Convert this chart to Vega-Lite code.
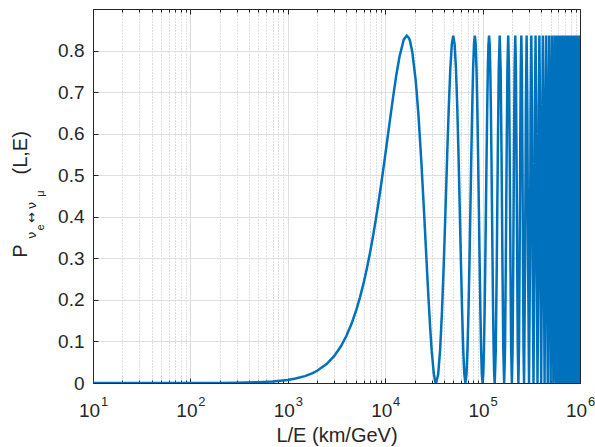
{
 "$schema": "https://vega.github.io/schema/vega-lite/v6.json",
 "width": 487,
 "height": 374,
 "autosize": {"type": "none"},
 "padding": {"left": 93, "top": 9, "right": 15, "bottom": 64},
 "background": "white",
 "config": {
  "view": {"stroke": null},
  "axis": {"labelFont": "Liberation Sans", "titleFont": "Liberation Sans", "labelColor": "#262626", "titleColor": "#262626", "titleFontWeight": "normal", "domainColor": "#262626", "tickColor": "#262626", "domainWidth": 1, "tickWidth": 1, "labelFlush": false, "labelOverlap": false}
 },
 "data": {"values": [
  {"x":10,"p":0},{"x":20,"p":0.000003},{"x":50,"p":0.0000186},{"x":100,"p":0.0000744},{"x":200,"p":0.000298},{"x":300,"p":0.00067},{"x":500,"p":0.00186},{"x":700,"p":0.00365},{"x":1000,"p":0.00742},{"x":1200,"p":0.01067},{"x":1500,"p":0.01663},{"x":1800,"p":0.02388},{"x":2000,"p":0.02941},{"x":2500,"p":0.04565},{"x":3000,"p":0.0652},{"x":3500,"p":0.08788},{"x":4000,"p":0.1135},{"x":4500,"p":0.14182},{"x":5000,"p":0.1726},{"x":5500,"p":0.20561},{"x":6000,"p":0.2404},{"x":6500,"p":0.27689},{"x":7000,"p":0.3146},{"x":7500,"p":0.35318},{"x":8000,"p":0.3925},{"x":8500,"p":0.4318},{"x":9000,"p":0.4711},{"x":9500,"p":0.5099},{"x":10000,"p":0.5478},{"x":11000,"p":0.62012},{"x":12000,"p":0.685},{"x":13000,"p":0.74071},{"x":14000,"p":0.7847},{"x":15500,"p":0.8262},{"x":16650,"p":0.836},{"x":17500,"p":0.83063},{"x":18000,"p":0.8225},{"x":19000,"p":0.7957},{"x":20500,"p":0.7305},{"x":21000,"p":0.70297},{"x":22000,"p":0.6408},{"x":23500,"p":0.5329},{"x":25000,"p":0.4158},{"x":26500,"p":0.2994},{"x":27000,"p":0.26212},{"x":28000,"p":0.1922},{"x":29000,"p":0.13018},{"x":30000,"p":0.0785},{"x":31500,"p":0.0239},{"x":32500,"p":0.0048},{"x":33000,"p":0.00067},
  {"x":33300,"p":0},{"x":34965,"p":0.02046},{"x":36630,"p":0.0798},{"x":38295,"p":0.1723},{"x":39960,"p":0.2888},{"x":41625,"p":0.418},{"x":43290,"p":0.5472},{"x":44955,"p":0.6637},{"x":46620,"p":0.7562},{"x":48285,"p":0.8155},{"x":49950,"p":0.836},{"x":51615,"p":0.8155},{"x":53280,"p":0.7562},{"x":54945,"p":0.6637},{"x":56610,"p":0.5472},{"x":58275,"p":0.418},{"x":59940,"p":0.2888},{"x":61605,"p":0.1723},{"x":63270,"p":0.0798},{"x":64935,"p":0.02046},
  {"x":66600,"p":0},{"x":68265,"p":0.02046},{"x":69930,"p":0.0798},{"x":71595,"p":0.1723},{"x":73260,"p":0.2888},{"x":74925,"p":0.418},{"x":76590,"p":0.5472},{"x":78255,"p":0.6637},{"x":79920,"p":0.7562},{"x":81585,"p":0.8155},{"x":83250,"p":0.836},{"x":84915,"p":0.8155},{"x":86580,"p":0.7562},{"x":88245,"p":0.6637},{"x":89910,"p":0.5472},{"x":91575,"p":0.418},{"x":93240,"p":0.2888},{"x":94905,"p":0.1723},{"x":96570,"p":0.0798},{"x":98235,"p":0.02046},
  {"x":99900,"p":0},{"x":101565,"p":0.02046},{"x":103230,"p":0.0798},{"x":104895,"p":0.1723},{"x":106560,"p":0.2888},{"x":108225,"p":0.418},{"x":109890,"p":0.5472},{"x":111555,"p":0.6637},{"x":113220,"p":0.7562},{"x":114885,"p":0.8155},{"x":116550,"p":0.836},{"x":118215,"p":0.8155},{"x":119880,"p":0.7562},{"x":121545,"p":0.6637},{"x":123210,"p":0.5472},{"x":124875,"p":0.418},{"x":126540,"p":0.2888},{"x":128205,"p":0.1723},{"x":129870,"p":0.0798},{"x":131535,"p":0.02046},
  {"x":133200,"p":0},{"x":136530,"p":0.0798},{"x":139860,"p":0.2888},{"x":143190,"p":0.5472},{"x":146520,"p":0.7562},{"x":149850,"p":0.836},{"x":153180,"p":0.7562},{"x":156510,"p":0.5472},{"x":159840,"p":0.2888},{"x":163170,"p":0.0798},
  {"x":166500,"p":0},{"x":169830,"p":0.0798},{"x":173160,"p":0.2888},{"x":176490,"p":0.5472},{"x":179820,"p":0.7562},{"x":183150,"p":0.836},{"x":186480,"p":0.7562},{"x":189810,"p":0.5472},{"x":193140,"p":0.2888},{"x":196470,"p":0.0798},
  {"x":199800,"p":0},{"x":203130,"p":0.0798},{"x":206460,"p":0.2888},{"x":209790,"p":0.5472},{"x":213120,"p":0.7562},{"x":216450,"p":0.836},{"x":219780,"p":0.7562},{"x":223110,"p":0.5472},{"x":226440,"p":0.2888},{"x":229770,"p":0.0798},
  {"x":233100,"p":0},{"x":236430,"p":0.0798},{"x":239760,"p":0.2888},{"x":243090,"p":0.5472},{"x":246420,"p":0.7562},{"x":249750,"p":0.836},{"x":253080,"p":0.7562},{"x":256410,"p":0.5472},{"x":259740,"p":0.2888},{"x":263070,"p":0.0798},
  {"x":266400,"p":0},{"x":273060,"p":0.2888},{"x":278055,"p":0.6637},{"x":283050,"p":0.836},{"x":288045,"p":0.6637},{"x":293040,"p":0.2888},
  {"x":299700,"p":0},{"x":306360,"p":0.2888},{"x":311355,"p":0.6637},{"x":316350,"p":0.836},{"x":321345,"p":0.6637},{"x":326340,"p":0.2888},
  {"x":333000,"p":0},{"x":339660,"p":0.2888},{"x":344655,"p":0.6637},{"x":349650,"p":0.836},{"x":354645,"p":0.6637},{"x":359640,"p":0.2888},
  {"x":366300,"p":0},{"x":372960,"p":0.2888},{"x":377955,"p":0.6637},{"x":382950,"p":0.836},{"x":387945,"p":0.6637},{"x":392940,"p":0.2888},
  {"x":399600,"p":0},{"x":406260,"p":0.2888},{"x":411255,"p":0.6637},{"x":416250,"p":0.836},{"x":421245,"p":0.6637},{"x":426240,"p":0.2888},
  {"x":432900,"p":0},{"x":439560,"p":0.2888},{"x":444555,"p":0.6637},{"x":449550,"p":0.836},{"x":454545,"p":0.6637},{"x":459540,"p":0.2888},
  {"x":466200,"p":0},{"x":472860,"p":0.2888},{"x":477855,"p":0.6637},{"x":482850,"p":0.836},{"x":487845,"p":0.6637},{"x":492840,"p":0.2888},
  {"x":499500,"p":0},{"x":506160,"p":0.2888},{"x":511155,"p":0.6637},{"x":516150,"p":0.836},{"x":521145,"p":0.6637},{"x":526140,"p":0.2888},
  {"x":532800,"p":0},{"x":539460,"p":0.2888},{"x":544455,"p":0.6637},{"x":549450,"p":0.836},{"x":554445,"p":0.6637},{"x":559440,"p":0.2888},
  {"x":566100,"p":0},{"x":572760,"p":0.2888},{"x":577755,"p":0.6637},{"x":582750,"p":0.836},{"x":587745,"p":0.6637},{"x":592740,"p":0.2888},
  {"x":599400,"p":0},{"x":606060,"p":0.2888},{"x":611055,"p":0.6637},{"x":616050,"p":0.836},{"x":621045,"p":0.6637},{"x":626040,"p":0.2888},
  {"x":632700,"p":0},{"x":639360,"p":0.2888},{"x":644355,"p":0.6637},{"x":649350,"p":0.836},{"x":654345,"p":0.6637},{"x":659340,"p":0.2888},
  {"x":666000,"p":0},{"x":672660,"p":0.2888},{"x":677655,"p":0.6637},{"x":682650,"p":0.836},{"x":687645,"p":0.6637},{"x":692640,"p":0.2888},
  {"x":699300,"p":0},{"x":705960,"p":0.2888},{"x":710955,"p":0.6637},{"x":715950,"p":0.836},{"x":720945,"p":0.6637},{"x":725940,"p":0.2888},
  {"x":732600,"p":0},{"x":739260,"p":0.2888},{"x":744255,"p":0.6637},{"x":749250,"p":0.836},{"x":754245,"p":0.6637},{"x":759240,"p":0.2888},
  {"x":765900,"p":0},{"x":772560,"p":0.2888},{"x":777555,"p":0.6637},{"x":782550,"p":0.836},{"x":787545,"p":0.6637},{"x":792540,"p":0.2888},
  {"x":799200,"p":0},{"x":805860,"p":0.2888},{"x":810855,"p":0.6637},{"x":815850,"p":0.836},{"x":820845,"p":0.6637},{"x":825840,"p":0.2888},
  {"x":832500,"p":0},{"x":839160,"p":0.2888},{"x":844155,"p":0.6637},{"x":849150,"p":0.836},{"x":854145,"p":0.6637},{"x":859140,"p":0.2888},
  {"x":865800,"p":0},{"x":872460,"p":0.2888},{"x":877455,"p":0.6637},{"x":882450,"p":0.836},{"x":887445,"p":0.6637},{"x":892440,"p":0.2888},
  {"x":899100,"p":0},{"x":905760,"p":0.2888},{"x":910755,"p":0.6637},{"x":915750,"p":0.836},{"x":920745,"p":0.6637},{"x":925740,"p":0.2888},
  {"x":932400,"p":0},{"x":939060,"p":0.2888},{"x":944055,"p":0.6637},{"x":949050,"p":0.836},{"x":954045,"p":0.6637},{"x":959040,"p":0.2888},
  {"x":965700,"p":0},{"x":972360,"p":0.2888},{"x":977355,"p":0.6637},{"x":982350,"p":0.836},{"x":987345,"p":0.6637},{"x":992340,"p":0.2888},
  {"x":999000,"p":0},{"x":1000000,"p":0.0074}
 ]},
 "resolve": {"axis": {"x": "independent", "y": "independent"}},
 "layer": [
  {
   "mark": {"type": "line", "color": "#0072BD", "strokeWidth": 2.5, "clip": true},
   "encoding": {
    "x": {"field": "x", "type": "quantitative",
     "scale": {"type": "log", "domain": [10, 1000000], "nice": false},
     "axis": {"orient": "bottom", "values": [10, 100, 1000, 10000, 100000, 1000000], "labelExpr": "'10'", "labelFontSize": 19, "labelOffset": -4, "labelPadding": 23, "labelBaseline": "top", "tickSize": -5, "grid": true, "gridColor": "#dfdfdf", "gridWidth": 1, "title": "L/E (km/GeV)", "titleFontSize": 20, "titleY": 58, "titleBaseline": "alphabetic"}},
    "y": {"field": "p", "type": "quantitative",
     "scale": {"domain": [0, 0.9], "nice": false, "zero": false},
     "axis": {"orient": "left", "values": [0, 0.1, 0.2, 0.3, 0.4, 0.5, 0.6, 0.7, 0.8], "format": "~g", "labelFontSize": 19, "labelPadding": 14, "tickSize": -5, "grid": true, "gridColor": "#dfdfdf", "gridWidth": 1, "title": "P\u2003\u2003\u2003\u2002(L,E)", "titleFontSize": 20, "titleX": -67, "titleY": 185, "titleBaseline": "alphabetic"}}
   }
  },
  {
   "mark": {"type": "line", "opacity": 0},
   "encoding": {
    "x": {"field": "x", "type": "quantitative",
     "axis": {"orient": "top", "values": [10, 100, 1000, 10000, 100000, 1000000], "labels": false, "tickSize": -5, "grid": false, "title": null}},
    "y": {"field": "p", "type": "quantitative",
     "axis": {"orient": "right", "values": [0, 0.1, 0.2, 0.3, 0.4, 0.5, 0.6, 0.7, 0.8], "labels": false, "tickSize": -5, "grid": false, "title": null}}
   }
  },
  {
   "mark": {"type": "line", "opacity": 0},
   "encoding": {
    "x": {"field": "x", "type": "quantitative",
     "axis": {"orient": "bottom", "values": [20,30,40,50,60,70,80,90,200,300,400,500,600,700,800,900,2000,3000,4000,5000,6000,7000,8000,9000,20000,30000,40000,50000,60000,70000,80000,90000,200000,300000,400000,500000,600000,700000,800000,900000], "labels": false, "tickSize": -3, "domain": false, "grid": true, "gridColor": "#bdbdbd", "gridDash": [1, 2], "gridWidth": 1, "title": null}},
    "y": {"field": "p", "type": "quantitative",
     "axis": {"orient": "left", "labels": false, "ticks": false, "domain": false, "grid": false, "title": "\u03bd\u2002\u2009\u2194\u2009\u03bd", "titleFont": "DejaVu Sans", "titleFontSize": 13, "titleX": -58, "titleY": 211, "titleBaseline": "alphabetic"}}
   }
  },
  {
   "mark": {"type": "line", "opacity": 0},
   "encoding": {
    "x": {"field": "x", "type": "quantitative",
     "axis": {"orient": "top", "values": [20,30,40,50,60,70,80,90,200,300,400,500,600,700,800,900,2000,3000,4000,5000,6000,7000,8000,9000,20000,30000,40000,50000,60000,70000,80000,90000,200000,300000,400000,500000,600000,700000,800000,900000], "labels": false, "tickSize": -3, "domain": false, "grid": false, "title": null}},
    "y": {"field": "p", "type": "quantitative",
     "axis": {"orient": "left", "labels": false, "ticks": false, "domain": false, "grid": false, "title": "e\u2003\u2003\u2002\u03bc", "titleFontSize": 11, "titleX": -50, "titleY": 201, "titleBaseline": "alphabetic"}}
   }
  },
  {
   "mark": {"type": "line", "opacity": 0},
   "encoding": {
    "x": {"field": "x", "type": "quantitative",
     "axis": {"orient": "bottom", "values": [10, 100, 1000, 10000, 100000, 1000000], "labelExpr": "'' + round(log(datum.value) / LN10)", "labelFontSize": 13, "labelOffset": 11, "labelPadding": 12, "labelBaseline": "top", "ticks": false, "domain": false, "grid": false, "title": null}},
    "y": {"field": "p", "type": "quantitative", "axis": null}
   }
  }
 ]
}
